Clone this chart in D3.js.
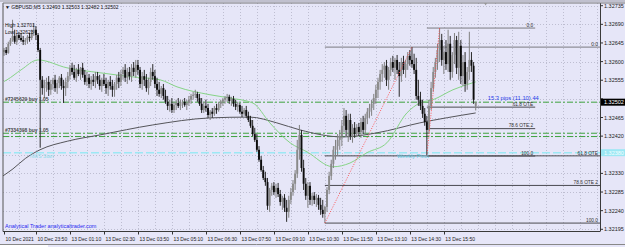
<!DOCTYPE html>
<html>
<head>
<meta charset="utf-8">
<script src="https://cdn.jsdelivr.net/npm/d3@7"></script>
<style>
  html, body { margin: 0; padding: 0; background: #e6e6f8; }
  svg { display: block; font-family: "Liberation Sans", Arial, sans-serif; }
</style>
</head>
<body>
<div id="chart"></div>
<script>
// GBPUSD M5 — quotes are in points (0.00001) above BASE
const BASE = 1.32;

const opens = [623,628,621,643,652,662,648,664,657,652,648,652,660,657,669,677,664,628,556,536,
  544,551,532,546,556,536,548,561,541,536,551,565,585,575,561,580,570,585,568,551,
  561,546,556,551,565,556,541,556,546,536,551,541,532,546,561,551,570,580,561,575,
  565,585,575,592,580,546,565,556,536,551,575,565,546,532,522,536,517,503,493,498,
  483,495,500,493,498,503,495,500,508,517,520,522,512,498,483,493,488,471,479,474,
  488,483,498,503,508,512,515,505,510,498,491,495,479,474,483,469,459,445,425,411,
  387,363,338,319,309,252,290,300,285,295,280,261,271,247,237,266,285,305,329,387,
  423,343,305,276,300,266,276,266,271,254,242,232,249,290,324,353,387,396,411,420,
  445,469,435,459,420,440,425,442,430,454,435,464,479,488,498,512,532,551,570,580,
  590,556,580,599,585,604,580,565,599,580,594,614,604,594,580,517,508,493,474,454,
  435,493,536,575,599,628,652,604,623,594,643,575,616,652,585,638,565,599,546,575,
  604,590,493];
const highs = [633,635,648,657,701,677,669,672,669,662,657,664,669,677,693,686,669,633,565,556,
  561,565,556,561,568,556,565,570,556,561,575,592,597,592,585,594,587,597,580,575,
  570,565,570,575,575,568,561,570,561,556,565,556,551,568,575,580,587,594,585,587,
  594,599,604,604,587,575,580,570,561,585,594,580,561,551,541,546,532,517,508,512,
  503,508,512,508,508,512,508,517,522,527,532,527,522,512,503,508,498,483,488,493,
  498,503,508,512,517,522,520,515,517,508,503,500,493,488,493,479,469,459,440,425,
  396,372,348,334,319,295,307,309,305,307,290,276,280,266,276,295,314,338,411,447,
  435,363,319,309,309,283,285,280,278,271,266,252,297,334,363,396,411,425,435,459,
  488,483,474,474,449,454,449,452,464,469,474,488,498,508,522,544,561,580,594,599,
  604,587,609,614,609,616,599,609,614,604,623,628,635,619,609,556,527,508,488,469,
  508,551,587,609,643,681,667,638,652,677,662,623,669,662,672,652,616,623,587,672,
  623,599,503];
const lows = [614,616,619,638,648,643,640,652,648,640,640,643,648,652,662,652,623,392,520,512,
  527,517,520,532,527,522,536,532,500,517,536,556,568,556,551,565,556,561,544,541,
  536,532,541,536,546,532,527,541,522,517,532,515,515,532,536,541,556,551,546,556,
  551,565,561,568,536,532,541,527,520,541,556,536,517,515,512,508,498,483,479,476,
  476,483,488,483,488,491,483,493,498,508,512,503,493,476,476,479,464,459,464,469,
  474,479,488,493,498,503,498,493,491,483,479,474,466,469,464,454,440,420,406,382,
  358,334,314,300,242,237,276,278,271,273,252,242,237,213,223,256,276,290,319,363,
  334,290,266,247,254,252,256,249,242,230,223,210,237,280,314,343,363,372,387,396,
  430,420,406,411,404,416,418,420,416,425,425,449,464,469,483,498,512,532,551,561,
  541,532,565,575,556,570,515,551,570,561,580,590,585,570,508,493,483,464,445,372,
  425,483,527,561,580,599,590,570,580,575,556,561,594,570,556,546,541,527,532,556,
  575,498,482];
const closes = [628,621,643,652,662,648,664,657,652,648,652,660,657,669,677,664,628,556,536,544,
  551,532,546,556,536,548,561,541,536,551,565,585,575,561,580,570,585,568,551,561,
  546,556,551,565,556,541,556,546,536,551,541,532,546,561,551,570,580,561,575,565,
  585,575,592,580,546,565,556,536,551,575,565,546,532,522,536,517,503,493,498,483,
  495,500,493,498,503,495,500,508,517,520,522,512,498,483,493,488,471,479,474,488,
  483,498,503,508,512,515,505,510,498,491,495,479,474,483,469,459,445,425,411,387,
  363,338,319,309,252,290,300,285,295,280,261,271,247,237,266,285,305,329,387,423,
  343,305,276,300,266,276,266,271,254,242,232,249,290,324,353,387,396,411,420,445,
  469,435,459,420,440,425,442,430,454,435,464,479,488,498,512,532,551,570,580,590,
  556,580,599,585,604,580,565,599,580,594,614,604,594,580,517,508,493,474,454,435,
  493,536,575,599,628,652,604,623,594,643,575,616,652,585,638,565,599,546,575,604,
  590,508,502];

// moving averages: [bar, points]
const maFast = [[0,552],[1.4,556],[8,580],[16,604],[29.6,585],[45.2,573],[60.7,563],[73.4,556],
  [81.4,539],[96.9,520],[106.3,512],[117.1,500],[125.1,452],[134.6,404],[142.6,382],
  [154.8,346],[162.8,355],[170.8,380],[180.2,404],[189.6,476],[195.7,500],[201.9,508],
  [211.3,532],[220.7,549],[222,551]];
const maSlow = [[-0.5,324],[4.2,341],[10,366],[16.9,387],[30,408],[45.2,423],[70,447],[96.9,464],
  [115.7,466],[128.4,452],[139.3,435],[159.5,418],[175.5,428],[195.7,452],[222,476]];

const priceTicks = [195,240,285,330,375,420,465,510,555,600,645,690,735];
const timeLabels = ["10 Dec 2021","10 Dec 23:50","13 Dec 01:10","13 Dec 02:30","13 Dec 03:50",
  "13 Dec 05:10","13 Dec 06:30","13 Dec 07:50","13 Dec 09:10","13 Dec 10:30","13 Dec 11:50",
  "13 Dec 13:10","13 Dec 14:30","13 Dec 15:50"];
const timeLabelBars = [0,15,31,47,63,79,95,111,127,143,159,175,191,207];

const orderLines = [{ text: "#7245629 buy 1.05", price: 502 },
                    { text: "#7334398 buy 1.05", price: 427 },
                    { text: "", price: 419 }];
const pivotPrice = 380;
const fibLevels = [0, 61.8, 78.6, 100];
const fibNames = ["0.0", "61.8 OTE", "78.6 OTE 2", "100.0"];
const fibs = [{ lowBar: 151, highBar: 192, low: 210, high: 635, endBar: null },
              { lowBar: 199, highBar: 205, low: 372, high: 681, endBar: 250 }];

const W = 625, H = 247;
const plot = { left: 3, right: 600, top: 3, bottom: 231.5 };
const fmt = v => (BASE + v / 1e5).toFixed(5);

const svg = d3.select("#chart").append("svg").attr("width", W).attr("height", H);
svg.append("rect").attr("width", W).attr("height", H).attr("fill", "#e6e6f8");

const x = d3.scaleLinear().domain([-0.5, 280.5]).range([plot.left, plot.right]);
const y = d3.scaleLinear().domain([195, 735]).range([229.3, 5.7]);

// grid
const grid = svg.append("g").attr("stroke", "#b4b4c6").attr("stroke-dasharray", "1,2").attr("stroke-width", 0.8);
grid.selectAll(".hg").data(priceTicks).join("line")
  .attr("x1", plot.left).attr("x2", plot.right)
  .attr("y1", d => Math.round(y(d)) + 0.5).attr("y2", d => Math.round(y(d)) + 0.5);
grid.selectAll(".vg").data(d3.range(7, 281, 8)).join("line")
  .attr("y1", plot.top).attr("y2", plot.bottom)
  .attr("x1", d => Math.round(x(d)) + 0.5).attr("x2", d => Math.round(x(d)) + 0.5);

// horizontal order / pivot lines
svg.selectAll(".ol").data(orderLines).join("line")
  .attr("x1", plot.left).attr("x2", plot.right)
  .attr("y1", d => y(d.price)).attr("y2", d => y(d.price))
  .attr("stroke", "#3da23d").attr("stroke-width", 1).attr("stroke-dasharray", "6,2,2,2");
svg.append("line").attr("x1", plot.left).attr("x2", plot.right)
  .attr("y1", y(pivotPrice)).attr("y2", y(pivotPrice))
  .attr("stroke", "#9ce8f4").attr("stroke-width", 1.6).attr("stroke-dasharray", "8,3");

// fibonacci levels
fibs.forEach(f => {
  const x0 = x(f.lowBar), x1 = f.endBar ? x(f.endBar) : plot.right;
  fibLevels.forEach((lv, i) => {
    const p = f.high - (f.high - f.low) * lv / 100;
    svg.append("line").attr("x1", x0).attr("x2", x1).attr("y1", y(p)).attr("y2", y(p))
      .attr("stroke", i === 0 ? "#7a7a80" : "#4a4a50").attr("stroke-width", 1);
    svg.append("text").attr("x", x1 - 2).attr("y", y(p) - 1.2).attr("text-anchor", "end")
      .attr("font-size", 4.8).attr("fill", "#333").text(fibNames[i]);
  });
});

// moving averages
const maLine = d3.line().x(d => x(d[0])).y(d => y(d[1])).curve(d3.curveMonotoneX);
svg.append("path").attr("d", maLine(maSlow)).attr("fill", "none").attr("stroke", "#55555a").attr("stroke-width", 1);
svg.append("path").attr("d", maLine(maFast)).attr("fill", "none").attr("stroke", "#86d486").attr("stroke-width", 1);

// candles
const bars = opens.map((o, i) => ({ i, o, h: highs[i], l: lows[i], c: closes[i] }));
const cg = svg.append("g");
cg.selectAll(".wick").data(bars).join("line")
  .attr("x1", d => x(d.i)).attr("x2", d => x(d.i))
  .attr("y1", d => y(d.h)).attr("y2", d => y(d.l))
  .attr("stroke", d => d.c >= d.o ? "#808080" : "#2a2a2a").attr("stroke-width", 1);
cg.selectAll(".body").data(bars).join("rect")
  .attr("x", d => x(d.i) - 0.95).attr("width", 1.9)
  .attr("y", d => y(Math.max(d.o, d.c)))
  .attr("height", d => Math.max(0.8, Math.abs(y(d.o) - y(d.c))))
  .attr("fill", d => d.c >= d.o ? "#8a8a8a" : "#0c0c0c");

// fib trend lines (red dotted)
fibs.forEach(f => {
  svg.append("line").attr("x1", x(f.lowBar)).attr("y1", y(f.low))
    .attr("x2", x(f.highBar)).attr("y2", y(f.high))
    .attr("stroke", "#ff4a4a").attr("stroke-width", 0.9).attr("stroke-dasharray", "1,1.5");
});

// order labels
svg.selectAll(".olt").data(orderLines.filter(d => d.text)).join("text")
  .attr("x", 5).attr("y", d => y(d.price) - 1.5)
  .attr("font-size", 5).attr("fill", "#4a4a4a").attr("font-weight", "bold").text(d => d.text);

// pivot labels
svg.append("text").attr("x", 30).attr("y", y(pivotPrice) + 5).attr("font-size", 5)
  .attr("fill", "#8adbe8").text("NWS Start");
svg.append("text").attr("x", 397).attr("y", y(pivotPrice) + 5).attr("font-size", 5.5)
  .attr("fill", "#5acde2").text("Weekly Pivot");

// info texts
svg.append("text").attr("x", 5).attr("y", 27).attr("font-size", 5).attr("fill", "#111").text("High 1.32701");
svg.append("text").attr("x", 5).attr("y", 34).attr("font-size", 5).attr("fill", "#111").text("Low 1.32623");
svg.append("text").attr("x", x(222) + 12).attr("y", y(closes[222]) - 2.6)
  .attr("font-size", 5.8).attr("fill", "#2840e8").text("15.3 pips (11.10) 44");
svg.append("text").attr("x", 5).attr("y", 228).attr("font-size", 5.5).attr("fill", "#2828f0")
  .text("Analytical Trader analyticaltrader.com");
svg.append("text").attr("x", 5).attr("y", 9).attr("font-size", 5).attr("fill", "#111")
  .text("\u25BC GBPUSD,M5  1.32493 1.32503 1.32482 1.32502");

// frame
const fr = svg.append("g").attr("stroke", "#3a3a3a").attr("fill", "none");
fr.append("line").attr("x1", plot.left).attr("x2", plot.left).attr("y1", plot.top).attr("y2", plot.bottom).attr("stroke", "#555");
fr.append("line").attr("x1", plot.right + 0.5).attr("x2", plot.right + 0.5).attr("y1", plot.top).attr("y2", plot.bottom);
fr.append("line").attr("x1", plot.left).attr("x2", plot.right).attr("y1", plot.bottom).attr("y2", plot.bottom);
fr.append("line").attr("x1", 0).attr("x2", W).attr("y1", 1).attr("y2", 1).attr("stroke", "#9a9aa4");
fr.append("line").attr("x1", plot.left).attr("x2", W).attr("y1", 3).attr("y2", 3).attr("stroke", "#777");
svg.append("path").attr("d", `M${x(225) + 2},3 l3,0 l-1.5,2.5 z`).attr("fill", "#999");

// price axis (tick labels hidden where a price tag sits on them)
const tagPrices = [pivotPrice, closes[closes.length - 1]];
const freeTicks = priceTicks.filter(t => tagPrices.every(p => Math.abs(y(t) - y(p)) > 6));
const pa = svg.append("g");
pa.selectAll("line").data(priceTicks).join("line")
  .attr("x1", plot.right).attr("x2", plot.right + 3)
  .attr("y1", d => y(d)).attr("y2", d => y(d)).attr("stroke", "#333");
pa.selectAll("text").data(freeTicks).join("text")
  .attr("x", plot.right + 4).attr("y", d => y(d) + 2)
  .attr("font-size", 5.5).attr("fill", "#222").text(fmt);
// price tags
const tag = (p, bg, fg) => {
  svg.append("rect").attr("x", plot.right + 1).attr("y", y(p) - 3.5).attr("width", 24).attr("height", 7).attr("fill", bg);
  svg.append("text").attr("x", plot.right + 4).attr("y", y(p) + 2).attr("font-size", 5.5).attr("fill", fg).text(fmt(p));
};
tag(pivotPrice, "#9ce8f4", "#f4ffff");
tag(closes[closes.length - 1], "#000", "#fff");

// time axis
const ta = svg.append("g");
ta.selectAll("line").data(timeLabelBars).join("line")
  .attr("x1", d => Math.round(x(d)) + 0.5).attr("x2", d => Math.round(x(d)) + 0.5)
  .attr("y1", plot.bottom).attr("y2", plot.bottom + 3).attr("stroke", "#333");
ta.selectAll("text").data(timeLabelBars).join("text")
  .attr("x", d => Math.max(3, x(d) + 1.5)).attr("y", 240.5)
  .attr("font-size", 5).attr("fill", "#222").text((d, i) => timeLabels[i]);

// bottom strip
svg.append("line").attr("x1", 0).attr("x2", W).attr("y1", 244.5).attr("y2", 244.5).attr("stroke", "#888");
svg.append("rect").attr("x", 0).attr("y", 245).attr("width", 48).attr("height", 2).attr("fill", "#fff");
</script>
</body>
</html>
